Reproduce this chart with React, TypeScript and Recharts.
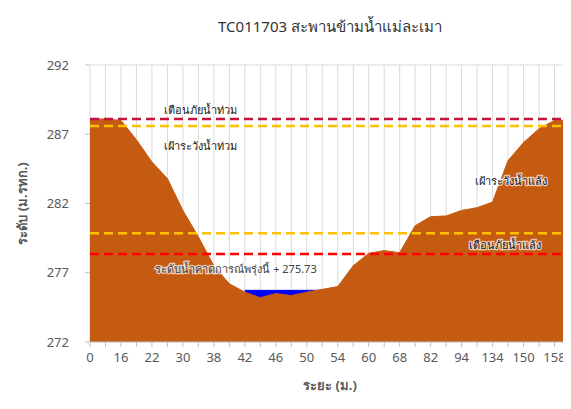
import { Area, AreaChart, CartesianGrid, Label, ReferenceLine, XAxis, YAxis } from "recharts";

const stations = [
  "0", "8", "16", "19", "22", "26", "30", "34", "38", "40", "42", "44", "46", "48", "50", "52",
  "54", "57", "60", "64", "68", "75", "82", "88", "94", "114", "134", "142", "150", "154", "158", "160",
];

const groundLevel = [
  288.1, 288.1, 288.0, 286.6, 285.0, 283.8, 281.5, 279.6, 277.5, 276.2, 275.6, 275.2, 275.5, 275.35, 275.6, 275.8,
  276.0, 277.5, 278.4, 278.6, 278.45, 280.4, 281.05, 281.1, 281.5, 281.7, 282.1, 285.1, 286.4, 287.4, 288.0, 288.0,
];

const forecastLevel = 275.73;
const wetStations = ["42", "44", "46", "48", "50", "52"];

const yTicks = [272, 277, 282, 287, 292];

const floodWarning = 288.1;
const floodWatch = 287.6;
const droughtWatch = 279.85;
const droughtWarning = 278.35;

const rows = stations.map((s, i) => ({
  station: s,
  ground: groundLevel[i],
  water: wetStations.includes(s) ? forecastLevel : null,
}));

const FONT = "Tahoma, 'Noto Sans', 'DejaVu Sans', sans-serif";

function tagAt(text: string, dx: number, dy: number, color = "#1a1a1a") {
  return (props: any) => {
    const vb = props.viewBox;
    return (
      <text
        x={vb.x + dx}
        y={vb.y + dy}
        textAnchor="middle"
        dominantBaseline="central"
        fontSize={11}
        fontFamily={FONT}
        fill={color}
        stroke="#ffffff"
        strokeWidth={2.5}
        strokeOpacity={0.7}
        paintOrder="stroke"
      >
        {text}
      </text>
    );
  };
}

function XTick(props: any) {
  const { x, y, payload, index } = props;
  if (index % 2 === 1) return <g />;
  return (
    <text x={x} y={y} dy="0.71em" textAnchor="middle" fontSize={13} fontFamily={FONT} fill="#595959">
      {payload.value}
    </text>
  );
}

export default function App() {
  return (
    <div style={{ position: "relative", width: 571, height: 409, margin: -8, background: "#fff" }}>
      <div
        style={{
          position: "absolute",
          top: 15,
          left: 90,
          width: 480,
          textAlign: "center",
          fontFamily: FONT,
          fontSize: 15,
          color: "#333333",
        }}
      >
        TC011703 สะพานข้ามน้ำแม่ละเมา
      </div>
      <AreaChart width={571} height={409} data={rows} margin={{ top: 65, right: 1, left: 0, bottom: 0 }}>
        <CartesianGrid horizontal={false} stroke="#d9d9d9" />
        <XAxis
          dataKey="station"
          interval={0}
          height={67}
          tick={<XTick />}
          tickSize={5}
          tickMargin={6}
          stroke="#bfbfbf"
        >
          <Label
            content={(p: any) => (
              <text
                x={p.viewBox.x + p.viewBox.width / 2}
                y={p.viewBox.y + 43}
                textAnchor="middle"
                dominantBaseline="central"
                fontSize={13}
                fontWeight="bold"
                fontFamily={FONT}
                fill="#595959"
              >
                ระยะ (ม.)
              </text>
            )}
          />
        </XAxis>
        <YAxis
          type="number"
          domain={[272, 292]}
          ticks={yTicks}
          width={90}
          tickSize={5}
          tickMargin={16}
          axisLine={false}
          stroke="#bfbfbf"
          tick={{ fontSize: 13, fill: "#595959", fontFamily: FONT }}
        >
          <Label
            content={(p: any) => {
              const cx = 22;
              const cy = p.viewBox.y + p.viewBox.height / 2;
              return (
                <text
                  x={cx}
                  y={cy}
                  transform={`rotate(-90, ${cx}, ${cy})`}
                  textAnchor="middle"
                  dominantBaseline="central"
                  fontSize={13}
                  fontWeight="bold"
                  fontFamily={FONT}
                  fill="#595959"
                >
                  ระดับ (ม.รทก.)
                </text>
              );
            }}
          />
        </YAxis>
        <ReferenceLine y={292} stroke="#d9d9d9" />
        <Area
          type="linear"
          dataKey="water"
          stroke="#0000ff"
          strokeWidth={1}
          fill="#0000ff"
          fillOpacity={1}
          isAnimationActive={false}
          dot={false}
          activeDot={false}
        />
        <Area
          type="linear"
          dataKey="ground"
          stroke="#c55a11"
          strokeWidth={1}
          fill="#c55a11"
          fillOpacity={1}
          isAnimationActive={false}
          dot={false}
          activeDot={false}
        />
        <ReferenceLine y={floodWarning} stroke="#c0143c" strokeWidth={2.5} strokeDasharray="9 5" label={tagAt("เตือนภัยน้ำท่วม", 110, -10)} />
        <ReferenceLine y={floodWatch} stroke="#ffc000" strokeWidth={2.5} strokeDasharray="9 5" label={tagAt("เฝ้าระวังน้ำท่วม", 110, 20)} />
        <ReferenceLine y={droughtWatch} stroke="#ffc000" strokeWidth={2.5} strokeDasharray="9 5" label={tagAt("เฝ้าระวังน้ำแล้ง", 421, -53)} />
        <ReferenceLine y={droughtWarning} stroke="#ff0000" strokeWidth={2.5} strokeDasharray="9 5" label={tagAt("เตือนภัยน้ำแล้ง", 415, -10)} />
        <ReferenceLine
          y={forecastLevel}
          stroke="none"
          label={tagAt(`ระดับน้ำคาดการณ์พรุ่งนี้ + ${forecastLevel}`, 146, -22, "#404040")}
        />
      </AreaChart>
    </div>
  );
}
